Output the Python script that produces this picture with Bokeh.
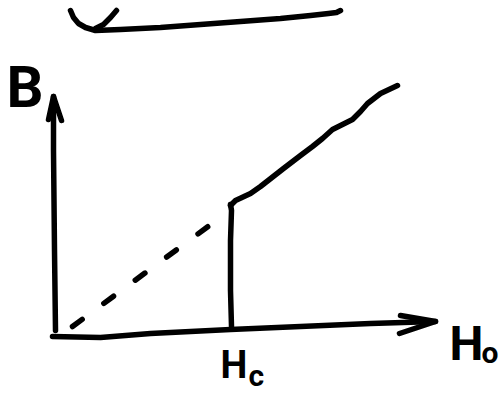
from bokeh.plotting import figure
from bokeh.models import Range1d
from bokeh.core.properties import value
from bokeh.embed import file_html
from bokeh.resources import INLINE

# Hand-sketched B(H0) curve: points along each pen stroke (page pixels, y downward)
top_curve_x = [70, 73, 78, 85, 95, 120, 160, 200, 240, 280, 310, 328, 336, 340]
top_curve_y = [10, 17, 23, 27, 30, 29, 27, 24, 21, 18, 15, 13, 12, 10]
top_hook_x = [95, 103, 110, 116]
top_hook_y = [28, 24, 17, 10]

b_axis_x = [55, 54, 53, 53]
b_axis_y = [330, 250, 150, 96]
b_head_x = [[48, 53, 61]]
b_head_y = [[119, 96, 120]]

h_axis_x = [52, 100, 150, 230, 300, 370, 435]
h_axis_y = [336, 337, 333, 329, 326, 323, 321]
h_head_x = [[400, 435, 399]]
h_head_y = [[315, 321, 333]]

linear_x = [72, 213]
linear_y = [326, 222]

jump_x = [231, 230, 230, 231, 230]
jump_y = [326, 290, 240, 210, 204]

mixed_x = [230, 235, 250, 260, 283, 300, 312, 322, 332, 342, 352, 360, 367, 380, 397]
mixed_y = [205, 200, 193, 186, 168, 155, 146, 138, 129, 124, 119, 111, 103, 93, 85]

ink = "#000000"
hand = value("Roboto")

p = figure(width=500, height=395, x_range=Range1d(0, 500), y_range=Range1d(395, 0),
           output_backend="svg", toolbar_location=None, min_border=0,
           x_axis_location=None, y_axis_location=None)
p.grid.visible = False
p.outline_line_color = None
p.background_fill_color = "white"

lw = 5.5
p.line(top_curve_x, top_curve_y, line_width=lw, line_color=ink, line_cap="round", line_join="round")
p.line(top_hook_x, top_hook_y, line_width=lw, line_color=ink, line_cap="round", line_join="round")

p.line(b_axis_x, b_axis_y, line_width=lw, line_color=ink, line_cap="round")
p.multi_line(b_head_x, b_head_y, line_width=lw, line_color=ink, line_cap="round", line_join="round")
p.line(h_axis_x, h_axis_y, line_width=lw, line_color=ink, line_cap="round", line_join="round")
p.multi_line(h_head_x, h_head_y, line_width=lw, line_color=ink, line_cap="round", line_join="round")

p.line(linear_x, linear_y, line_width=lw, line_color=ink, line_cap="round", line_dash="12 27")
p.line(jump_x, jump_y, line_width=lw, line_color=ink, line_cap="round", line_join="round")
p.line(mixed_x, mixed_y, line_width=lw, line_color=ink, line_cap="round", line_join="round")

p.text(x=[6], y=[86], text=["B"], text_font=hand, text_font_size="58px",
       text_font_style="bold", text_baseline="middle", text_color=ink)
p.text(x=[220], y=[364], text=["H"], text_font=hand, text_font_size="38px",
       text_font_style="bold", text_baseline="middle", text_color=ink)
p.text(x=[248], y=[375], text=["c"], text_font=hand, text_font_size="30px",
       text_font_style="bold", text_baseline="middle", text_color=ink)
p.text(x=[449], y=[343], text=["H"], text_font=hand, text_font_size="48px",
       text_font_style="bold", text_baseline="middle", text_color=ink)
p.text(x=[481], y=[352], text=["o"], text_font=hand, text_font_size="30px",
       text_font_style="bold", text_baseline="middle", text_color=ink)

open("out.html", "w").write(file_html(p, INLINE))
